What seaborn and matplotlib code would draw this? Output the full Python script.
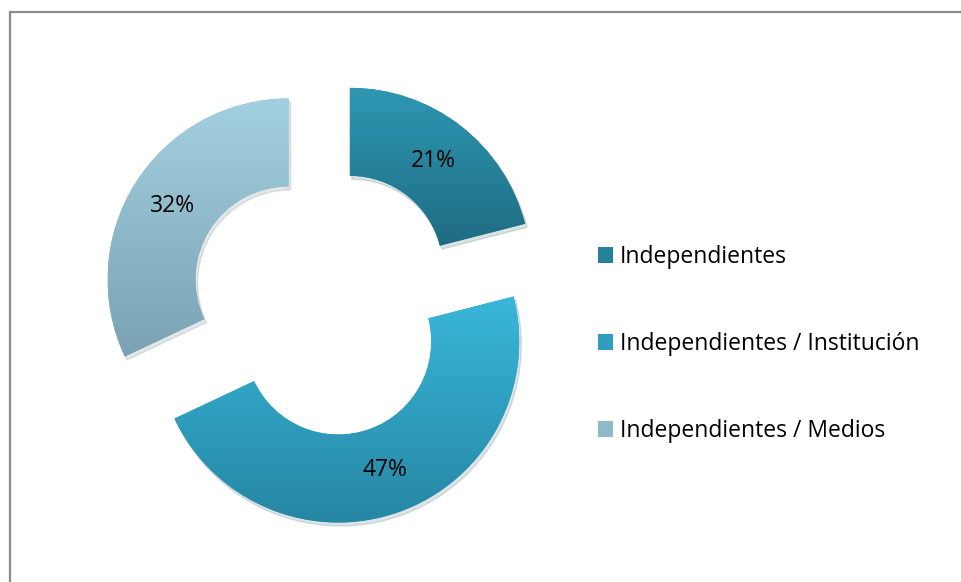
import numpy as np
import matplotlib
matplotlib.use('Agg')
import matplotlib.pyplot as plt
import seaborn as sns
from matplotlib.colors import LinearSegmentedColormap

categories = ['Independientes', 'Independientes / Institución', 'Independientes / Medios']
shares = [21, 47, 32]
pct_labels = ['21%', '47%', '32%']

# top / bottom colours of each slice gradient
top_colors = ['#2e97b3', '#39b7da', '#a3d0e1']
bottom_colors = ['#1e6c82', '#2686a3', '#7aa2b2']

sns.set_theme(style='white')
plt.rcParams['font.family'] = ['Open Sans', 'DejaVu Sans']

fig = plt.figure(figsize=(9.61, 5.82), dpi=100)
ax = fig.add_axes([0, 0, 1, 1])

radius = 181
ring = 88
mid_colors = [sns.blend_palette([t, b], 3)[1] for t, b in zip(top_colors, bottom_colors)]

wedges, texts = ax.pie(
    shares, labels=None, colors=mid_colors, startangle=90, counterclock=False,
    explode=[42] * 3, radius=radius, center=(324, 280),
    wedgeprops=dict(width=ring, edgecolor='none'),
    shadow=dict(ox=1.5, oy=-2.5, shade=0.5, alpha=0.15),
    frame=True,
)

grad = np.linspace(0, 1, 256).reshape(-1, 1)
for w, t, b, lab in zip(wedges, top_colors, bottom_colors, pct_labels):
    ax.set_xlim(0, 961)
    ax.set_ylim(0, 582)
    x0, y0, x1, y1 = w.get_path().get_extents(w.get_patch_transform()).extents
    cmap = LinearSegmentedColormap.from_list('g', [b, t])
    im = ax.imshow(grad, cmap=cmap, extent=[x0, x1, y0, y1], origin='lower',
                   aspect='auto', zorder=3, interpolation='bicubic')
    im.set_clip_path(w)
    # percentage label in the middle of the ring
    theta = np.deg2rad((w.theta1 + w.theta2) / 2)
    cx, cy = w.center
    r = radius - ring / 2
    ax.text(cx + r * np.cos(theta), cy + r * np.sin(theta), lab,
            ha='center', va='center', fontsize=16.5, color='black', zorder=5)

ax.set_xlim(0, 961)
ax.set_ylim(0, 582)
ax.set_aspect('equal')
ax.axis('off')

leg = fig.legend(wedges, categories, loc='center left',
                 bbox_to_anchor=(598 / 961, 238 / 582), frameon=False,
                 fontsize=16.5, labelspacing=2.75, handlelength=0.65,
                 handleheight=0.65, handletextpad=0.3, borderpad=0,
                 borderaxespad=0)
for txt in leg.get_texts():
    txt.set_color('black')

# chart border
fig.add_artist(plt.Line2D([9.5 / 961, 9.5 / 961], [0, 1 - 11.5 / 582],
                          transform=fig.transFigure, color='#8c8c8c', lw=1.6))
fig.add_artist(plt.Line2D([9.5 / 961, 1], [1 - 11.5 / 582, 1 - 11.5 / 582],
                          transform=fig.transFigure, color='#8c8c8c', lw=1.6))

fig.savefig('out.png', dpi=100)
